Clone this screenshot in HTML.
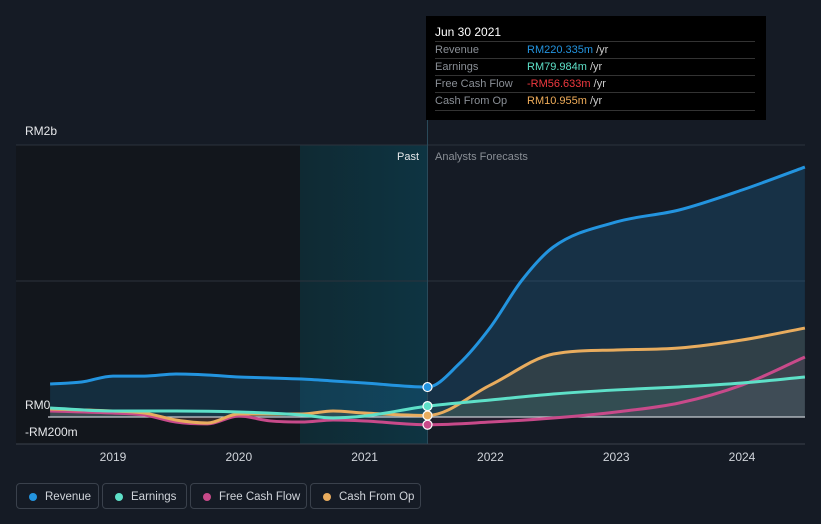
<!DOCTYPE html>
<html><head><meta charset="utf-8"><style>
body{margin:0;background:#151b25;font-family:"Liberation Sans",sans-serif;}
#wrap{position:relative;width:821px;height:524px;overflow:hidden;background:#151b25;}
svg text{font-family:"Liberation Sans",sans-serif;}
.leg{position:absolute;top:483px;height:26px;border:1px solid #3a414c;border-radius:4px;color:#d0d4da;font-size:11.5px;line-height:26px;padding:0 0 0 28px;box-sizing:border-box;white-space:nowrap}
.leg i{position:absolute;left:12px;top:9px;width:8px;height:8px;border-radius:50%}
#tip{position:absolute;left:426px;top:16px;width:340px;height:104px;background:#000;color:#fff;font-size:12px}
#tip .r{position:absolute;left:9px;width:320px;border-top:1px solid #333;height:17px;line-height:17px;color:#8a8f96;font-size:11px}
#tip .r b{position:absolute;left:92px;font-weight:normal}
</style></head><body>
<div id="wrap">
<svg id="svg" width="821" height="524"></svg>
<div id="tip">
 <div style="position:absolute;left:9px;top:9px">Jun 30 2021</div>
 <div class="r" style="top:25px">Revenue<b style="color:#2394df">RM220.335m <span style="color:#ccc">/yr</span></b></div>
 <div class="r" style="top:42px">Earnings<b style="color:#5ee0c8">RM79.984m <span style="color:#ccc">/yr</span></b></div>
 <div class="r" style="top:59px">Free Cash Flow<b style="color:#f0393f">-RM56.633m <span style="color:#ccc">/yr</span></b></div>
 <div class="r" style="top:76px;border-bottom:1px solid #333">Cash From Op<b style="color:#f0ad5a">RM10.955m <span style="color:#ccc">/yr</span></b></div>
</div>
<div class="leg" style="left:16px;width:83px"><i style="background:#2394df"></i>Revenue</div>
<div class="leg" style="left:102px;width:85px"><i style="background:#5ee0c8"></i>Earnings</div>
<div class="leg" style="left:190px;width:117px"><i style="background:#c84a8a"></i>Free Cash Flow</div>
<div class="leg" style="left:310px;width:111px"><i style="background:#e8ac5e"></i>Cash From Op</div>
</div>
<script>
const revYears=[2018.5,2018.75,2019,2019.25,2019.5,2019.75,2020,2020.25,2020.5,2020.75,2021,2021.5,2021.75,2022,2022.25,2022.5,2023,2023.5,2024,2024.5];
const revenue=[243,257,301,301,316,309,294,287,279,265,250,220,390,660,1005,1250,1434,1522,1669,1838];
const earnYears=[2018.5,2019,2019.5,2020,2020.5,2020.75,2021,2021.5,2022,2022.5,2023,2023.5,2024,2024.5];
const earnings=[66,44,44,37,15,-7,7,80,125,169,199,221,250,294];
const fcfYears=[2018.5,2019,2019.25,2019.5,2019.75,2020,2020.25,2020.5,2020.75,2021,2021.5,2022,2022.5,2023,2023.5,2024,2024.5];
const fcf=[44,29,15,-37,-51,7,-29,-37,-22,-29,-57,-37,-7,37,103,235,441];
const cfoYears=[2018.5,2019,2019.25,2019.5,2019.75,2020,2020.5,2020.75,2021,2021.5,2022,2022.5,2023,2023.5,2024,2024.5];
const cfo=[59,44,29,-22,-44,22,22,44,29,11,235,463,493,507,566,654];
const xTicks=[2019,2020,2021,2022,2023,2024];
const NOW=2021.5;
const X=y=>113+(y-2019)*125.8;
const Y=v=>417-v*0.136;
const svg=document.getElementById('svg');
const NS='http://www.w3.org/2000/svg';
function mk(t,a){const e=document.createElementNS(NS,t);for(const k in a)e.setAttribute(k,a[k]);svg.appendChild(e);return e;}
function path(xs,vs){const p=xs.map((x,i)=>[X(x),Y(vs[i])]);const n=p.length;const d=[],m=[];
for(let i=0;i<n-1;i++)d.push((p[i+1][1]-p[i][1])/(p[i+1][0]-p[i][0]));
for(let i=0;i<n;i++){if(i==0)m.push(d[0]);else if(i==n-1)m.push(d[n-2]);else m.push(d[i-1]*d[i]<=0?0:(d[i-1]+d[i])/2);}
for(let i=0;i<n-1;i++){if(d[i]==0){m[i]=m[i+1]=0;continue;}const a=m[i]/d[i],b=m[i+1]/d[i],s=a*a+b*b;if(s>9){const t=3/Math.sqrt(s);m[i]=t*a*d[i];m[i+1]=t*b*d[i];}}
let s='M'+p[0];for(let i=0;i<n-1;i++){const h=(p[i+1][0]-p[i][0])/3;s+=` C${p[i][0]+h},${p[i][1]+m[i]*h} ${p[i+1][0]-h},${p[i+1][1]-m[i+1]*h} ${p[i+1][0]},${p[i+1][1]}`;}return s;}
const defs=mk('defs',{});
defs.innerHTML='<linearGradient id="hl" x1="0" x2="1"><stop offset="0" stop-color="#0f2a33"/><stop offset="1" stop-color="#0e3442"/></linearGradient>';
let e=mk('rect',{x:16,y:145,width:284,height:299,fill:'#12161c'});
e=mk('rect',{x:300,y:145,width:X(NOW)-300,height:299,fill:'url(#hl)'});
[145,281].forEach(y=>{e=mk('line',{x1:16,x2:805,y1:y,y2:y,stroke:'#2c333d'});});
e=mk('line',{x1:16,x2:805,y1:444,y2:444,stroke:'#3a414c'});
const series=[[revYears,revenue,'#2394df','revenue',0.18],[cfoYears,cfo,'#e8ac5e','cash-from-op',0.12],[earnYears,earnings,'#5ee0c8','earnings',0.08],[fcfYears,fcf,'#c84a8a','free-cash-flow',0.08]];
series.forEach(s=>{e=mk('path',{d:path(s[0],s[1])+` L${X(s[0][s[0].length-1])},${Y(0)} L${X(s[0][0])},${Y(0)} Z`,fill:s[2],'fill-opacity':s[4]});});
e=mk('line',{x1:48,x2:805,y1:417,y2:417,stroke:'#c8ccd2','stroke-width':1.2});
e=mk('line',{x1:X(NOW),x2:X(NOW),y1:120,y2:444,stroke:'#2a4a5a'});
[series[3],series[1],series[2],series[0]].forEach(s=>{e=mk('path',{d:path(s[0],s[1]),fill:'none',stroke:s[2],'stroke-width':3});
const i=s[0].indexOf(NOW);e=mk('circle',{cx:X(NOW),cy:Y(s[1][i]),r:4.5,fill:s[2],stroke:'#fff','stroke-width':1.2});});
xTicks.forEach(t=>{e=mk('text',{x:X(t),y:461,fill:'#d0d4da','font-size':12,'text-anchor':'middle'});e.textContent=t;});
[['RM2b',25,135],['RM0',25,409],['-RM200m',25,436]].forEach(l=>{e=mk('text',{x:l[1],y:l[2],fill:'#e6e8eb','font-size':12});e.textContent=l[0];});
e=mk('text',{x:419,y:160,fill:'#e6e8eb','font-size':11,'text-anchor':'end'});e.textContent='Past';
e=mk('text',{x:435,y:160,fill:'#8a8f96','font-size':11});e.textContent='Analysts Forecasts';
</script>
</body></html>
